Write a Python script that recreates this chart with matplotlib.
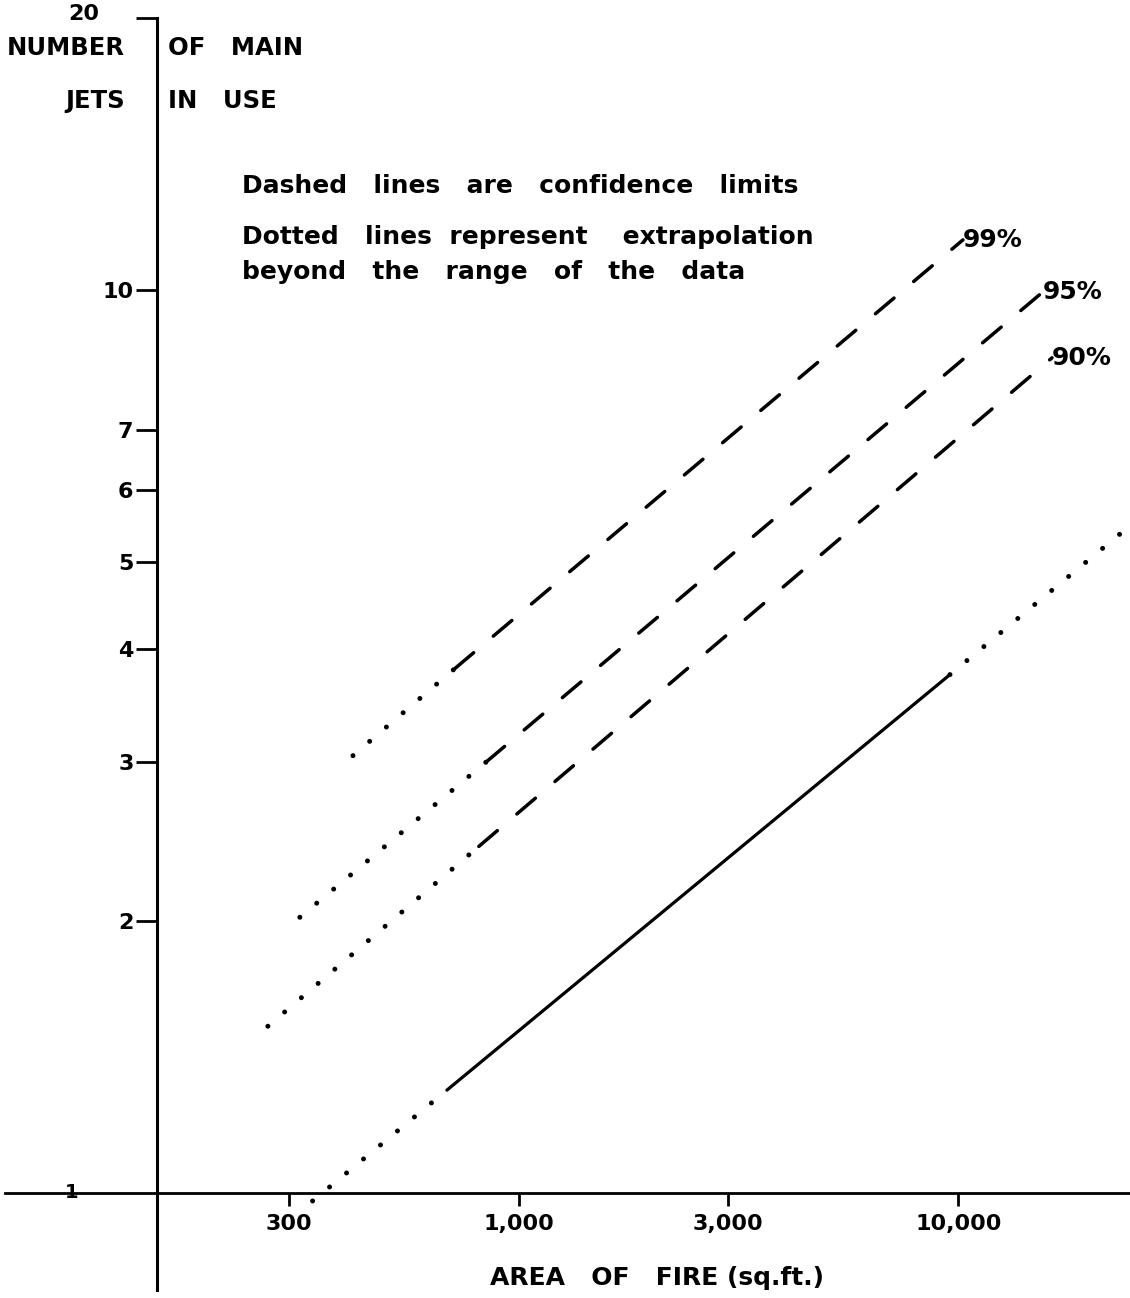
import numpy as np
import matplotlib
matplotlib.use("Agg")
import matplotlib.pyplot as plt

plt.rcParams['font.family'] = ['DejaVu Sans']

# fitted line: dotted below the data, solid over the data, dotted above
fit_lo_x = [340, 687]
fit_lo_y = [0.98, 1.30]
fit_x = [687, 9575]
fit_y = [1.30, 3.75]
fit_hi_x = [9575, 23900]
fit_hi_y = [3.75, 5.42]

# confidence limits: dotted part then dashed part
limit_names = ['99%', '95%', '90%']
limit_dot_x = [[420, 717], [318, 843], [269, 812]]
limit_dot_y = [[3.05, 3.81], [2.02, 3.00], [1.53, 2.42]]
limit_dash_x = [[717, 10250], [843, 15580], [812, 16340]]
limit_dash_y = [[3.81, 11.36], [3.00, 9.95], [2.42, 8.41]]

y_ticks = [2, 3, 4, 5, 6, 7, 10]
x_ticks = [300, 1000, 3000, 10000]
x_tick_labels = ['300', '1,000', '3,000', '10,000']

W, H = 1130, 1298
fig = plt.figure(figsize=(W / 100, H / 100), dpi=100)
ax = fig.add_axes([5 / W, (H - 1290) / H, 1125 / W, 1272 / H])
ax.set_xscale('log')
ax.set_yscale('log')
ax.set_xlim(67.9, 24580)
ax.set_ylim(0.781, 20)

dot_style = dict(color='black', lw=3.6, linestyle=(0, (0.001, 4.4)),
                 dash_capstyle='round')
dash_style = dict(color='black', lw=2.5, linestyle=(0, (7.0, 7.4)),
                  dash_capstyle='round')

ax.plot(fit_lo_x, fit_lo_y, **dot_style)
ax.plot(fit_x, fit_y, color='black', lw=2.3, solid_capstyle='round')
ax.plot(fit_hi_x, fit_hi_y, **dot_style)

for name, dx, dy, sx, sy in zip(limit_names, limit_dot_x, limit_dot_y,
                                limit_dash_x, limit_dash_y):
    ax.plot(dx, dy, **dot_style)
    ax.plot(sx, sy, **dash_style)
    ax.text(sx[1], sy[1], name, fontsize=18, fontweight='bold',
            ha='left', va='center')

# axes drawn as crossing lines
for s in ['top', 'right']:
    ax.spines[s].set_visible(False)
ax.spines['left'].set_position(('data', 150.6))
ax.spines['bottom'].set_position(('data', 1))
ax.spines['left'].set_linewidth(2.2)
ax.spines['bottom'].set_linewidth(2.0)

ax.minorticks_off()
ax.set_yticks(y_ticks + [20])
ax.set_yticklabels([str(v) for v in y_ticks] + [''], fontweight='bold', fontsize=16)
ax.set_xticks(x_ticks)
ax.set_xticklabels(x_tick_labels, fontweight='bold', fontsize=16)
ax.tick_params(axis='y', length=15, width=2.0, pad=2)
ax.tick_params(axis='x', length=9, width=2.0, pad=6)

def px(x, y):
    return (x / W, 1 - y / H)

fig.text(*px(84, 14), '20', fontsize=16, fontweight='bold', ha='center', va='center')
fig.text(*px(72, 1192), '1', fontsize=14, fontweight='bold', ha='center', va='center')
fig.text(*px(125, 48), 'NUMBER', fontsize=17.5, fontweight='bold', ha='right', va='center')
fig.text(*px(168, 48), 'OF   MAIN', fontsize=17.5, fontweight='bold', ha='left', va='center')
fig.text(*px(125, 101), 'JETS', fontsize=17.5, fontweight='bold', ha='right', va='center')
fig.text(*px(168, 101), 'IN   USE', fontsize=17.5, fontweight='bold', ha='left', va='center')

note = ['Dashed   lines   are   confidence   limits',
        'Dotted   lines  represent    extrapolation',
        'beyond   the   range   of   the   data']
for i, t in enumerate(note):
    fig.text(*px(242, [186, 237, 272][i]), t, fontsize=18, fontweight='bold',
             ha='left', va='center')

fig.text(*px(657, 1278), 'AREA   OF   FIRE (sq.ft.)', fontsize=18, fontweight='bold',
         ha='center', va='center')

fig.savefig('out.png', dpi=100)
